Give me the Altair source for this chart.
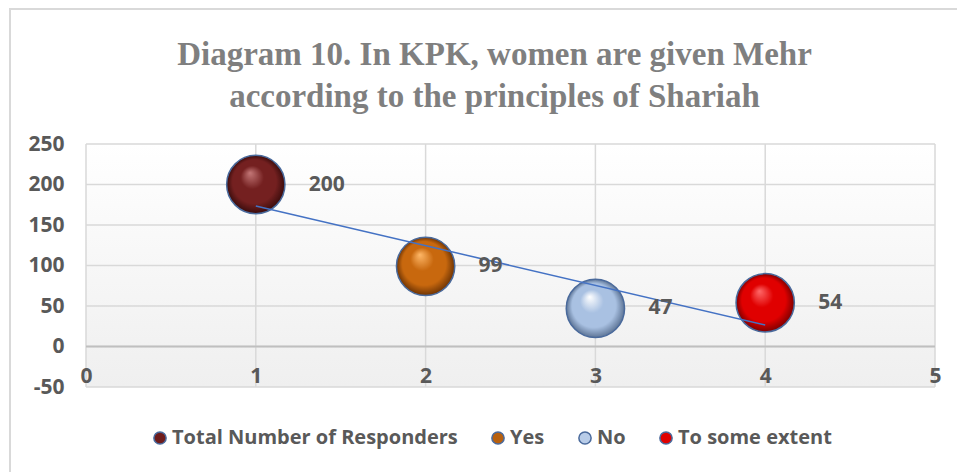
import altair as alt
import pandas as pd

# Survey responses: one bubble per answer group
categories = ["Total Number of Responders", "Yes", "No", "To some extent"]
positions = [1, 2, 3, 4]
responses = [200, 99, 47, 54]

# Axis tick values
x_ticks = [0, 1, 2, 3, 4, 5]
y_ticks = [-50, 0, 50, 100, 150, 200, 250]

# Sphere shading per group: (highlight, body, rim)
shades = [
    ("#C47878", "#742020", "#3A0C0C"),
    ("#FFB868", "#C8680E", "#6E3404"),
    ("#FFFFFF", "#A9C1E2", "#5E7596"),
    ("#FF6A6A", "#E00000", "#7E0000"),
]
legend_colors = ["#6E1C1C", "#B8600E", "#B8CCE8", "#E00000"]

df = pd.DataFrame({"group": categories, "x": positions, "y": responses})

text_color = "#595959"
font = "Open Sans"
grid_color = "#D9D9D9"

x_scale = alt.Scale(domain=[0, 5], nice=False)
y_scale = alt.Scale(domain=[-50, 250], nice=False)

x_axis = alt.Axis(
    values=x_ticks, format="d", title=None, domain=False, ticks=False, grid=False,
    offset=-22, labelPadding=0, labelFlush=False, labelFont=font, labelFontSize=21,
    labelFontWeight="bold", labelColor=text_color, zindex=1,
)
y_axis = alt.Axis(
    values=y_ticks, title=None, domain=False, ticks=False, grid=False,
    labelExpr="'' + datum.value",
    labelPadding=22, labelFont=font, labelFontSize=21, labelFontWeight="bold",
    labelColor=text_color, zindex=1,
)

base = alt.Chart(df)

# Outer chart frame
frame = base.mark_rect(fill=None, stroke="#D9D9D9", strokeWidth=1.5).encode(
    x=alt.value(-76), x2=alt.value(900), y=alt.value(-135), y2=alt.value(400)
)

# Plot-area shading, white at the top fading to light grey
backdrop = alt.Chart(pd.DataFrame({"a": [0]})).mark_rect(
    color=alt.Gradient(
        gradient="linear", x1=0, x2=0, y1=0, y2=1,
        stops=[alt.GradientStop(color="#FFFFFF", offset=0),
               alt.GradientStop(color="#EFEFEF", offset=1)],
    )
).encode(
    x=alt.datum(0, scale=x_scale, axis=x_axis),
    x2=alt.datum(5),
    y=alt.datum(-50, scale=y_scale, axis=y_axis),
    y2=alt.datum(250),
)

# Gridlines
v_grid = alt.Chart(pd.DataFrame({"t": x_ticks})).mark_rule(
    color=grid_color, strokeWidth=1.5
).encode(x=alt.X("t:Q", scale=x_scale))
h_grid = alt.Chart(pd.DataFrame({"t": y_ticks})).mark_rule(
    color=grid_color, strokeWidth=1.5
).encode(y=alt.Y("t:Q", scale=y_scale))

# Horizontal axis line at zero
zero_line = alt.Chart(pd.DataFrame({"a": [0]})).mark_rule(
    color="#BFBFBF", strokeWidth=2
).encode(y=alt.datum(0, scale=y_scale))

# Solid circles underneath the spheres; they drive the legend
legend_layer = base.mark_circle(size=900, opacity=1).encode(
    x=alt.X("x:Q", scale=x_scale),
    y=alt.Y("y:Q", scale=y_scale),
    color=alt.Color(
        "group:N",
        scale=alt.Scale(domain=categories, range=legend_colors),
        sort=categories,
        legend=alt.Legend(
            title=None, orient="none", direction="horizontal", legendX=64,
            legendY=284, labelFont=font, labelFontSize=20, labelFontWeight="bold",
            labelColor=text_color, symbolSize=150, symbolType="circle",
            symbolStrokeColor="#4A6A9C", symbolStrokeWidth=1.5, columnPadding=30,
            labelOffset=2, symbolOpacity=1, labelLimit=500,
        ),
    ),
)

# Shaded spheres, one layer per group
bubbles = []
for cat, (hi, body, rim) in zip(categories, shades):
    bubbles.append(
        base.transform_filter(alt.datum.group == cat).mark_circle(
            size=3400, opacity=1, stroke="#4A6A9C", strokeWidth=1.5,
            fill=alt.Gradient(
                gradient="radial", x1=0.4, y1=0.3, r1=0, x2=0.5, y2=0.5, r2=0.5,
                stops=[alt.GradientStop(color=hi, offset=0),
                       alt.GradientStop(color=body, offset=0.4),
                       alt.GradientStop(color=body, offset=0.75),
                       alt.GradientStop(color=rim, offset=1)],
            ),
        ).encode(x=alt.X("x:Q", scale=x_scale), y=alt.Y("y:Q", scale=y_scale))
    )

# Linear trend through the four points
trend = base.transform_regression("x", "y", extent=[1, 4]).mark_line(
    color="#4472C4", strokeWidth=1.5
).encode(x=alt.X("x:Q", scale=x_scale), y=alt.Y("y:Q", scale=y_scale))

labels = base.mark_text(
    align="left", baseline="middle", dx=53, font=font, fontSize=21,
    fontWeight="bold", color=text_color,
).encode(x=alt.X("x:Q", scale=x_scale), y=alt.Y("y:Q", scale=y_scale),
         text=alt.Text("y:Q"))

chart = alt.layer(
    frame, backdrop, v_grid, h_grid, zero_line, legend_layer, *bubbles, trend, labels
).properties(
    width=849,
    height=243,
    autosize=alt.AutoSizeParams(type="none"),
    padding={"left": 86, "top": 144, "right": 22, "bottom": 85},
    background="#FFFFFF",
    title=alt.TitleParams(
        text=["Diagram 10. In KPK, women are given Mehr",
              "according to the principles of Shariah"],
        font="Liberation Serif", fontSize=33, fontWeight="bold", color="#7F7F7F",
        lineHeight=42, anchor="middle", dx=-16, offset=30, dy=136,
    ),
).configure_view(stroke=None)

chart.save("out.html", embed_options={"renderer": "svg", "actions": False})
